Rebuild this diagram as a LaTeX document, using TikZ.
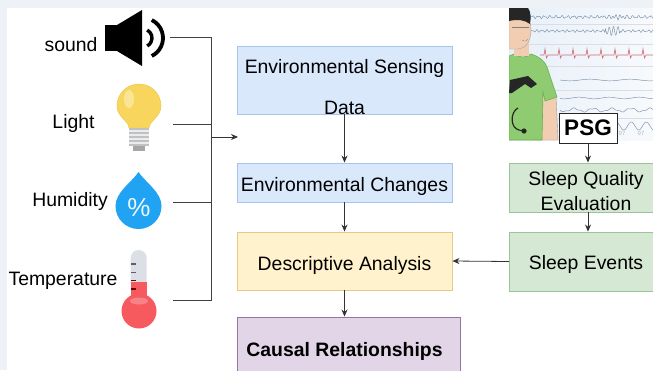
\documentclass[tikz,border=0pt]{standalone}
\usepackage{fontspec}
\setmainfont{Liberation Sans}
\usetikzlibrary{arrows.meta}
\definecolor{pagebg}{HTML}{EEF2F6}
\definecolor{bluefill}{HTML}{DAE8FC}
\definecolor{blueline}{HTML}{A9C4EB}
\definecolor{yellowfill}{HTML}{FFF2CC}
\definecolor{yellowline}{HTML}{E3CB86}
\definecolor{purplefill}{HTML}{E1D5E7}
\definecolor{purpleline}{HTML}{9673A6}
\definecolor{greenfill}{HTML}{D5E8D4}
\definecolor{greenline}{HTML}{9CC49A}
\definecolor{bulbyellow}{HTML}{F8D65E}
\definecolor{bulbedge}{HTML}{EEC648}
\definecolor{basegrey}{HTML}{BFC1C4}
\definecolor{dropblue}{HTML}{1FA3F2}
\definecolor{tubegrey}{HTML}{DCDFE6}
\definecolor{thermred}{HTML}{F65A5F}
\definecolor{tickgrey}{HTML}{5C5F6B}
\definecolor{monbg}{HTML}{E6EFF8}
\definecolor{trace}{HTML}{7E8DA6}
\definecolor{ecg}{HTML}{D06A78}
\definecolor{skin}{HTML}{F3CDB2}
\definecolor{shirt}{HTML}{8FCB70}
\definecolor{shirtdark}{HTML}{6EAE52}
\begin{document}
\begin{tikzpicture}[x=1pt,y=-1pt,
  lbl/.style={font=\fontsize{19.4}{22}\selectfont, anchor=base, inner sep=0pt},
  boxnode/.style={draw, line width=0.9pt, inner sep=0pt},
  bluebox/.style={boxnode, fill=bluefill, draw=blueline, minimum width=215pt},
  flow/.style={-{Stealth[length=7pt,width=6pt]}, line width=0.8pt, draw=black!80},
  wire/.style={line width=0.8pt, draw=black!75},
  wave/.style={line width=0.45pt, draw=trace}]
\useasboundingbox (0,0) rectangle (653,370);
\clip (0,0) rectangle (653,370);

% page background
\fill[pagebg] (0,0) rectangle (653,370);
\fill[white] (7,8) rectangle (653,370);

% ---------- sensor icons ----------
% speaker
\fill[black] (105,25) rectangle (118,51);
\fill[black] (117,25) -- (142,10) -- (142,66) -- (117,51) -- cycle;
\draw[line width=3.4pt] ([shift={(-62:9)}]143,38) arc[start angle=-62, end angle=62, radius=9];
\draw[line width=3.8pt] ([shift={(-64:20)}]143,38) arc[start angle=-64, end angle=64, radius=20];

% light bulb
\fill[bulbyellow, draw=bulbedge, line width=0.5pt]
  (129,128) .. controls (129,121) and (117,117) .. (117,106)
  arc[start angle=180, end angle=360, radius=22]
  .. controls (161,117) and (149,121) .. (149,128) -- cycle;
\fill[white, opacity=0.35] (129,99) ellipse[x radius=5, y radius=9];
\fill[basegrey] (129,128) rectangle (149,146);
\foreach \yy in {131,135,139,143}
  \draw[white!85!gray, line width=1.2pt] (129,\yy) -- (149,\yy);
\fill[gray!70] (133,146) rectangle (145,151);

% humidity drop
\fill[dropblue]
  (138.5,172) .. controls (132,182) and (115.5,192) .. (115.5,206)
  arc[start angle=180, end angle=0, radius=23]
  .. controls (161.5,192) and (145,182) .. (138.5,172) -- cycle;
\node[text=white!92!dropblue, font=\fontsize{26}{26}\selectfont, inner sep=0pt] (pct) at (139,208) {\%};

% thermometer
\fill[tubegrey] (130.7,283) -- (130.7,258) arc[start angle=180, end angle=360, radius=8] -- (146.7,283) -- cycle;
\fill[thermred] (130.7,281.7) rectangle (146.7,300);
\fill[thermred] (139,311) circle[radius=17.5];
\fill[white, opacity=0.25] (139,301) ellipse[x radius=9, y radius=3.5];
\foreach \yy in {264,272.3} \draw[tickgrey, line width=1.4pt] (131,\yy) -- (136,\yy);
\foreach \yy in {280.7,289} \draw[red!45!black, line width=1.4pt] (131,\yy) -- (136,\yy);

% sensor labels
\node[lbl] (snd) at (71,51) {sound};
\node[lbl] (lgt) at (73.5,128.3) {Light};
\node[lbl] (hum) at (70,206.7) {Humidity};
\node[lbl] (tmp) at (63,285) {Temperature};

% connector ends beside the icons
\coordinate (sndc) at (170,37);
\coordinate (lgtc) at (173,124);
\coordinate (humc) at (173,202);
\coordinate (tmpc) at (173,300);
\coordinate (busx) at (211,0);
\coordinate (tip) at (238,137);

% ---------- PSG picture ----------
\begin{scope}
\clip (509,8) rectangle (653,140);
\shade[left color=monbg, right color=white!70!monbg] (509,8) rectangle (653,140);
\foreach \yy in {24,44,66,90,118} \draw[blue!10!gray!25, line width=0.4pt] (509,\yy) -- (653,\yy);
% traces (t runs from 0 at the left end of each trace)
\draw[wave] plot[domain=0:125, samples=180] ({528+\x}, {17 + 1.0*sin(\x*61) + 0.7*sin(\x*113) + (\x>72)*(\x<102)*1.4*sin(\x*97)});
\draw[wave] plot[domain=0:125, samples=180] ({528+\x}, {31 + 0.9*sin(\x*71) + 0.6*sin(\x*109) + (\x>77)*(\x<92)*4*sin(\x*83)});
\draw[ecg, line width=0.6pt] (540,55) \foreach \k in {0,...,8} { -- ({544+\k*14},55) -- ({545+\k*14},49) -- ({546.5+\k*14},58) -- ({548+\k*14},55)} -- (653,55);
\draw[wave] plot[domain=0:93, samples=80] ({560+\x}, {80 + 0.8*sin(\x*9)});
\draw[wave] plot[domain=0:93, samples=80] ({560+\x}, {98 + 0.8*sin(\x*12+40)});
\draw[wave] plot[domain=0:93, samples=100] ({560+\x}, {110 + 1.6*sin(\x*19) + 0.6*sin(\x*47)});
\draw[wave] plot[domain=0:93, samples=120] ({560+\x}, {126 + 4*sin(\x*24)});
\node[text=gray!55, font=\fontsize{6}{6}\selectfont, inner sep=0pt] (v1) at (622,133) {97};
\node[text=gray!55, font=\fontsize{6}{6}\selectfont, inner sep=0pt] (v2) at (641,133) {97};
% person
\fill[skin, draw=black!40, line width=0.4pt] (533,96) -- (556,96) -- (558,140) -- (534,140) -- cycle;
\fill[shirt, draw=shirtdark, line width=0.6pt]
  (509,56) -- (514,54) .. controls (520,58) and (526,58) .. (531,54)
  .. controls (540,57) and (546,62) .. (548,70)
  -- (557,97) -- (545,101) -- (543,92)
  -- (542,140) -- (509,140) -- cycle;
\fill[skin] (514,42) rectangle (529,56);
\fill[skin, draw=black!35, line width=0.4pt] (509,12) .. controls (524,9) and (531,18) .. (531,30)
  .. controls (531,40) and (527,48) .. (518,49) -- (509,49) -- cycle;
\fill[black!85] (509,8) -- (528,8) .. controls (531,12) and (531,18) .. (530,24)
  .. controls (525,20) and (518,19) .. (509,21) -- cycle;
\draw[black!50, line width=0.5pt] (512,27) -- (529,27);
\draw[black!45, line width=0.4pt] (522,40) .. controls (525,42) and (527,41) .. (528,39);
\fill[black!85] (510,80) -- (528,76) -- (537,84) -- (531,88) -- (525,84) -- (512,93) -- (509,93) -- cycle;
\draw[black!85, line width=1.2pt] (518,108) .. controls (510,112) and (510,128) .. (519,130);
\fill[black!85] (524,131) circle[radius=2.6];
\draw[black!85, line width=1pt] (519,130) -- (523,131);
\end{scope}

% ---------- process boxes ----------
\node[bluebox, minimum height=68pt] (esd) at (344.5,80) {};
\node[lbl] (esdt) at (344.5,73) {Environmental Sensing};
\node[lbl] (esdd) at (344.5,114.5) {Data};
\node[bluebox, minimum height=39pt] (ec) at (344.5,182.5) {};
\node[lbl] (ect) at (344.5,191.3) {Environmental Changes};
\node[boxnode, fill=yellowfill, draw=yellowline, minimum width=215pt, minimum height=58pt] (da) at (344.5,261) {};
\node[lbl] (dat) at (344.5,270) {Descriptive Analysis};
\node[boxnode, fill=purplefill, draw=purpleline, minimum width=223pt, minimum height=58pt] (cr) at (348.5,346) {};
\node[lbl, font=\fontsize{19.4}{22}\selectfont\bfseries] (crt) at (344.5,356) {Causal Relationships};

\node[boxnode, fill=greenfill, draw=greenline, minimum width=146pt, minimum height=49pt] (sqe) at (582.5,187.5) {};
\node[lbl] (sqe1) at (586,185) {Sleep Quality};
\node[lbl] (sqe2) at (586,210.7) {Evaluation};
\node[boxnode, fill=greenfill, draw=greenline, minimum width=146pt, minimum height=59pt] (se) at (582.5,261.5) {};
\node[lbl] (set) at (586,269.3) {Sleep Events};
\node[boxnode, fill=white, draw=black!85, minimum width=58pt, minimum height=30pt] (psg) at (588,128) {};
\node[lbl, font=\fontsize{22.5}{24}\selectfont\bfseries] (psgt) at (588,135.5) {PSG};

% ---------- connectors ----------
\draw[wire] (sndc) -- (sndc -| busx) -- (tmpc -| busx) -- (tmpc);
\draw[wire] (lgtc) -- (lgtc -| busx);
\draw[wire] (humc) -- (humc -| busx);
\draw[flow] (tip -| busx) -- (tip);

\draw[flow] (esd.south) -- (ec.north);
\draw[flow] (ec.south) -- (da.north);
\draw[flow] (da.south) -- (da.south |- cr.north);
\draw[flow] (psg.south) -- (psg.south |- sqe.north);
\draw[flow] (sqe.south -| psg.south) -- (psg.south |- se.north);
\draw[flow] (se.west) -- (da.east);
\end{tikzpicture}
\end{document}
